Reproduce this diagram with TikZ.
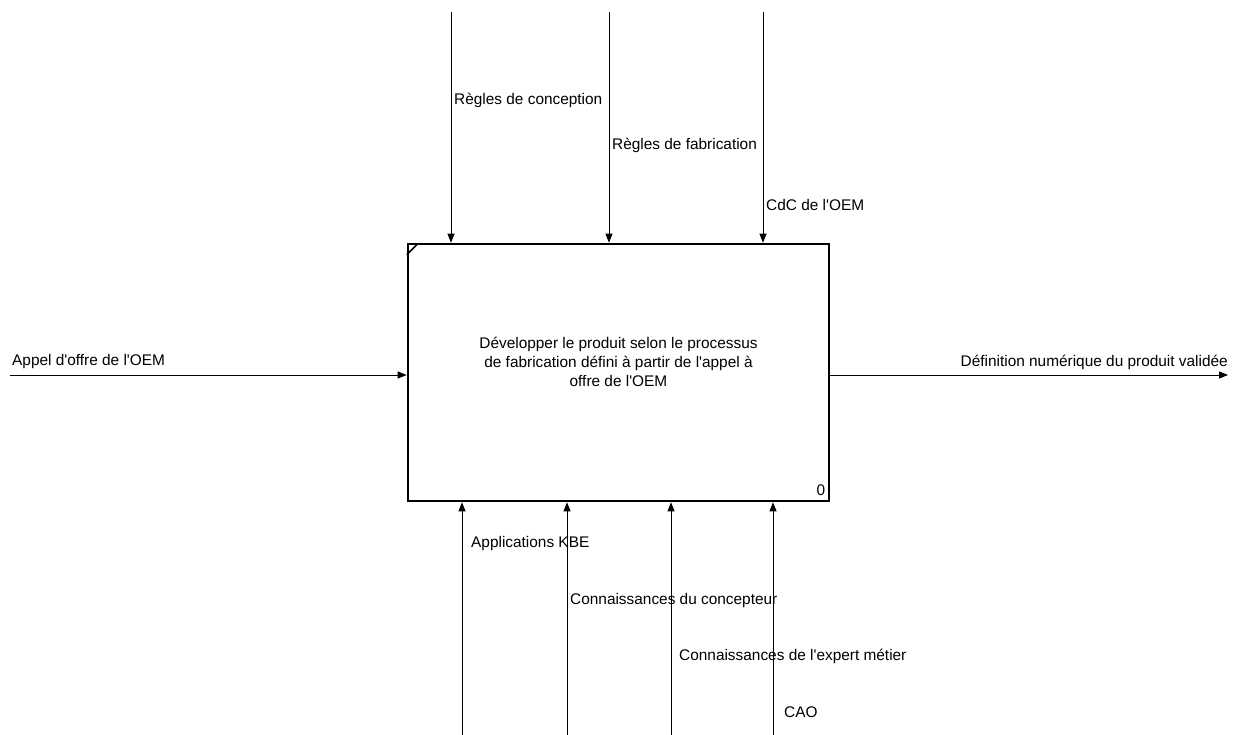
\documentclass[tikz,border=0pt]{standalone}
\usepackage{fontspec}
\setmainfont{Liberation Sans}[Ligatures=TeXOff]
\usepackage{tikz}
\usetikzlibrary{arrows.meta,positioning}
\tikzstyle{textonly} = [draw=none, fill=none, inner sep=0pt, align=center, font=\fontsize{15.4}{19}\selectfont]
\tikzstyle{activity} = [rectangle, draw=black, line width=2.6pt, fill=none, minimum width=421pt, minimum height=257pt]
\tikzstyle{tedge}  = [draw, line width=0.9pt, -{Triangle[length=9pt,width=7pt]}]

\begin{document}
\begin{tikzpicture}[x=1pt, y=1pt]
\useasboundingbox (0,0) rectangle (1236,735);
%box
\node[activity] (proc) at (618.5,362.5) {};
\node[textonly, above = -14pt of proc.center] (ptext) {D\'evelopper le produit selon le processus\\ de fabrication d\'efini \`a partir de l'appel \`a\\ offre de l'OEM};
\node[textonly, anchor=south east] (num) at ([xshift=-5pt, yshift=6pt]proc.south east) {0};
\draw[line width=1.6pt] ([yshift=-12pt]proc.north west) -- ([xshift=10pt, yshift=-2pt]proc.north west);

%free ends
\coordinate (ctop1) at (451,723);
\coordinate (ctop2) at (609,723);
\coordinate (ctop3) at (763,723);
\coordinate (cbot1) at (462,0);
\coordinate (cbot2) at (567,0);
\coordinate (cbot3) at (671,0);
\coordinate (cbot4) at (773,0);
\coordinate (cin) at (10,360);
\coordinate (cout) at (1228,360);

%labels
\node[textonly, anchor=west] (rconc) at (454,635) {R\`egles de conception};
\node[textonly, anchor=west] (rfab) at (612,590) {R\`egles de fabrication};
\node[textonly, anchor=west] (cdc) at (766,530) {CdC de l'OEM};
\node[textonly, anchor=west] (appel) at (12,373) {Appel d'offre de l'OEM};
\node[textonly, anchor=east] (defnum) at (1228,373) {D\'efinition num\'erique du produit valid\'ee};
\node[textonly, anchor=west] (kbe) at (471,191) {Applications KBE};
\node[textonly, anchor=west] (cconc) at (570,134) {Connaissances du concepteur};
\node[textonly, anchor=west] (cexp) at (679,79) {Connaissances de l'expert m\'etier};
\node[textonly, anchor=west] (cao) at (784,23) {CAO};

%paths
\path[tedge] (ctop1) -- (ctop1 |- proc.north);
\path[tedge] (ctop2) -- (ctop2 |- proc.north);
\path[tedge] (ctop3) -- (ctop3 |- proc.north);

\path[tedge] (cin) -- (cin -| proc.west);
\path[tedge] (cin -| proc.east) -- (cout);

\path[tedge] (cbot1) -- (cbot1 |- proc.south);
\path[tedge] (cbot2) -- (cbot2 |- proc.south);
\path[tedge] (cbot3) -- (cbot3 |- proc.south);
\path[tedge] (cbot4) -- (cbot4 |- proc.south);

\end{tikzpicture}
\end{document}
